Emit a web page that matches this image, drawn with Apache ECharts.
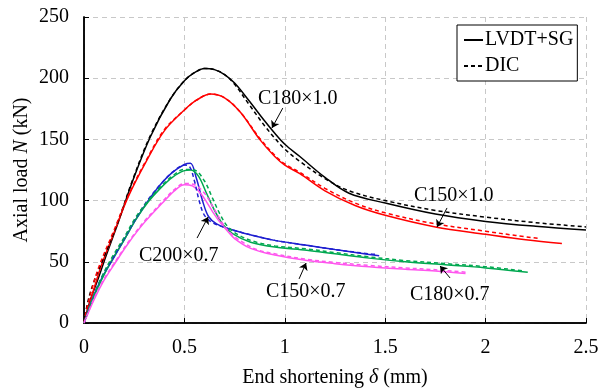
<!DOCTYPE html>
<html>
<head>
<meta charset="utf-8">
<script src="https://cdn.jsdelivr.net/npm/echarts@6/dist/echarts.min.js"></script>
<style>
  html, body { margin: 0; padding: 0; background: #fff; }
  #chart { width: 609px; height: 389px; }
</style>
</head>
<body>
<div id="chart"></div>
<script>
// x ticks and y ticks
const xTicks = [0, 0.5, 1, 1.5, 2, 2.5];
const yTicks = [0, 50, 100, 150, 200, 250];

// C180x1.0 (black)
const c180x10Solid = [[0,0],[0.03,18],[0.07,36],[0.11,55],[0.17,82],[0.24,115],[0.33,152],[0.43,183],[0.5,198],[0.55,204.5],[0.6,208],[0.65,207],[0.7,203],[0.75,196],[0.82,182],[0.9,165],[0.95,155],[1.0,146],[1.075,136],[1.2,119],[1.32,106],[1.5,98],[1.75,89],[2.0,83],[2.25,79],[2.5,76]];
const c180x10Dic = [[0,0],[0.02,18],[0.05,34],[0.1,54],[0.17,83],[0.24,116],[0.33,153],[0.43,183],[0.5,198],[0.55,204.5],[0.6,208],[0.65,207],[0.7,203],[0.75,195],[0.82,179],[0.9,161],[0.95,151],[1.0,142],[1.075,132],[1.2,118],[1.32,108],[1.5,100],[1.75,92],[2.0,86.5],[2.25,82],[2.5,78.5]];

// C150x1.0 (red)
const c150x10Solid = [[0,0],[0.03,17],[0.08,44],[0.15,74],[0.22,103],[0.31,132],[0.4,157],[0.5,174],[0.56,182],[0.63,187],[0.7,184],[0.78,172],[0.875,150],[0.95,136],[1.0,129],[1.075,122],[1.2,108],[1.35,96],[1.5,88],[1.75,78.5],[2.0,72.5],[2.2,68],[2.38,65]];
const c150x10Dic = [[0,0],[0.02,16],[0.07,44],[0.15,76],[0.22,104],[0.31,133],[0.4,158],[0.5,174],[0.56,182],[0.63,187],[0.7,184],[0.78,172],[0.875,151],[0.95,137],[1.0,130],[1.075,123],[1.2,110],[1.35,98],[1.5,90],[1.75,81],[2.0,75],[2.15,71.5],[2.27,69]];

// C200x0.7 (blue)
const c200x07Solid = [[0,0],[0.045,21],[0.09,37],[0.14,51],[0.2,68],[0.26,85],[0.32,100],[0.38,113],[0.44,123],[0.5,129.5],[0.53,130.5],[0.56,118],[0.59,100],[0.62,87],[0.66,81],[0.72,77],[0.83,72],[0.95,67.5],[1.11,63.5],[1.25,60],[1.42,56],[1.47,55]];
const c200x07Dic = [[0,0],[0.045,21],[0.09,38],[0.14,52],[0.2,69],[0.26,86],[0.32,101],[0.38,113],[0.44,123],[0.5,129],[0.525,128],[0.55,116],[0.575,99],[0.6,88],[0.64,82],[0.72,77],[0.83,72],[0.95,67.5],[1.11,63.5],[1.25,60],[1.42,56.5],[1.46,56]];

// C180x0.7 (green)
const c180x07Solid = [[0,0],[0.045,20],[0.09,36],[0.13,49],[0.2,68],[0.26,85],[0.32,99],[0.38,110],[0.44,119],[0.5,124.5],[0.53,125],[0.57,120],[0.61,106],[0.65,92],[0.69,81],[0.74,73],[0.83,66],[0.95,62],[1.11,59.5],[1.25,56.5],[1.42,53],[1.6,50],[1.8,47.5],[2.0,45],[2.21,41.5]];
const c180x07Dic = [[0,0],[0.04,19],[0.09,38],[0.13,51],[0.2,70],[0.26,87],[0.32,100],[0.38,111],[0.44,120],[0.5,125.5],[0.55,125],[0.6,116],[0.64,102],[0.68,88],[0.72,78],[0.78,71],[0.86,66],[0.95,63],[1.11,60.5],[1.25,57.5],[1.42,54],[1.6,51],[1.8,48.5],[2.0,46],[2.19,42.5]];

// C150x0.7 (magenta)
const c150x07Solid = [[0,0],[0.05,19],[0.1,35],[0.155,49],[0.22,65],[0.3,82],[0.39,98],[0.45,108],[0.5,113],[0.54,112],[0.58,106],[0.61,99],[0.64,91],[0.67,84],[0.71,76],[0.75,69],[0.83,61],[0.95,55.5],[1.11,51],[1.25,48.5],[1.42,46],[1.6,44],[1.75,42.5],[1.9,40.5]];
const c150x07Dic = [[0,0],[0.05,20],[0.1,36],[0.155,50],[0.22,66],[0.3,83],[0.39,99],[0.45,109],[0.5,114],[0.55,113],[0.6,106],[0.635,97],[0.67,87],[0.7,79],[0.74,72],[0.79,66],[0.86,60],[0.95,56.5],[1.11,52],[1.25,49.5],[1.42,47],[1.6,45],[1.75,43.5],[1.9,41.5]];

// annotation labels and arrows (data coordinates)
const noteLabels = [
  ["C180×1.0", 1.066, 183],
  ["C150×1.0", 1.843, 104],
  ["C200×0.7", 0.473, 55],
  ["C150×0.7", 1.106, 25],
  ["C180×0.7", 1.823, 22.5]
];
const noteArrows = [
  [0.99, 175.6, 0.936, 159.3],
  [1.808, 94, 1.758, 78.4],
  [0.563, 69.4, 0.618, 86.6],
  [1.071, 36, 1.106, 49],
  [1.823, 36.8, 1.773, 46.6]
];

const FONT = "'Liberation Serif', 'Times New Roman', serif";

const curves = [
  { solid: c180x10Solid, dic: c180x10Dic, color: "#000000" },
  { solid: c150x10Solid, dic: c150x10Dic, color: "#ff0000" },
  { solid: c200x07Solid, dic: c200x07Dic, color: "#1f1fd0" },
  { solid: c180x07Solid, dic: c180x07Dic, color: "#00a850" },
  { solid: c150x07Solid, dic: c150x07Dic, color: "#ff55ee" }
];

const series = [];
curves.forEach((c) => {
  series.push({
    type: "line",
    data: c.solid,
    showSymbol: false,
    symbol: "none",
    smooth: 0.35,
    lineStyle: { color: c.color, width: 1.5 },
    z: 2
  });
  series.push({
    type: "line",
    data: c.dic,
    showSymbol: false,
    symbol: "none",
    smooth: 0.35,
    lineStyle: { color: c.color, width: 1.5, type: [4, 3] },
    z: 3
  });
});

// legend-only series
series.push({
  name: "LVDT+SG", type: "line", data: [], symbol: "none",
  lineStyle: { color: "#000", width: 1.5 }, itemStyle: { color: "#000" }
});
series.push({
  name: "DIC", type: "line", data: [], symbol: "none",
  lineStyle: { color: "#000", width: 1.5, type: [4, 3] }, itemStyle: { color: "#000" }
});

// annotation arrows
series.push({
  type: "lines",
  coordinateSystem: "cartesian2d",
  symbol: ["none", "arrow"],
  symbolSize: 7,
  lineStyle: { color: "#000", width: 1, opacity: 1 },
  data: noteArrows.map((a) => ({ coords: [[a[0], a[1]], [a[2], a[3]]] })),
  z: 5
});

const axisFrame = {
  axisLine: { show: true, lineStyle: { color: "#000", width: 1.5 } },
  axisTick: { show: false },
  axisLabel: { show: false },
  splitLine: { show: false }
};

const chart = echarts.init(document.getElementById("chart"));
chart.setOption({
  animation: false,
  backgroundColor: "#fff",
  textStyle: { fontFamily: FONT },
  grid: { left: 84, right: 23, top: 17, bottom: 66, outerBoundsMode: "none", containLabel: false },
  legend: {
    data: [
      { name: "LVDT+SG", itemStyle: { opacity: 0 } },
      { name: "DIC", itemStyle: { opacity: 0 } }
    ],
    orient: "vertical",
    left: 457,
    top: 25,
    itemWidth: 19,
    itemHeight: 14,
    itemGap: 6,
    padding: [5, 4, 5, 6],
    borderColor: "#000",
    borderWidth: 1,
    borderRadius: 0,
    backgroundColor: "#fff",
    textStyle: { fontFamily: FONT, fontSize: 20, color: "#000", padding: [0, 0, 0, -3] }
  },
  xAxis: [{
    type: "value",
    min: xTicks[0],
    max: xTicks[xTicks.length - 1],
    interval: xTicks[1] - xTicks[0],
    name: "End shortening {i|δ} (mm)",
    nameLocation: "middle",
    nameGap: 45,
    nameMoveOverlap: false,
    nameTextStyle: {
      fontFamily: FONT, fontSize: 20, color: "#000",
      rich: { i: { fontFamily: FONT, fontSize: 20, fontStyle: "italic", color: "#000" } }
    },
    axisLine: { show: true, lineStyle: { color: "#000", width: 1.5 } },
    axisTick: { show: true, inside: true, length: 5, lineStyle: { color: "#000" } },
    axisLabel: { color: "#000", fontFamily: FONT, fontSize: 20, margin: 15 },
    splitLine: { show: true, lineStyle: { color: "#c8c8c8", type: [5, 4], width: 1 } }
  }, Object.assign({
    type: "value", position: "top",
    min: xTicks[0], max: xTicks[xTicks.length - 1]
  }, axisFrame)],
  yAxis: [{
    type: "value",
    min: yTicks[0],
    max: yTicks[yTicks.length - 1],
    interval: yTicks[1] - yTicks[0],
    name: "Axial load {i|N} (kN)",
    nameLocation: "middle",
    nameGap: 52,
    nameMoveOverlap: false,
    nameTextStyle: {
      fontFamily: FONT, fontSize: 20, color: "#000",
      rich: { i: { fontFamily: FONT, fontSize: 20, fontStyle: "italic", color: "#000" } }
    },
    axisLine: { show: true, lineStyle: { color: "#000", width: 1.5 } },
    axisTick: { show: true, inside: true, length: 5, lineStyle: { color: "#000" } },
    axisLabel: { color: "#000", fontFamily: FONT, fontSize: 20, margin: 15 },
    splitLine: { show: true, lineStyle: { color: "#c8c8c8", type: [5, 4], width: 1 } }
  }, Object.assign({
    type: "value", position: "right",
    min: yTicks[0], max: yTicks[yTicks.length - 1]
  }, axisFrame)],
  series: series
});

// annotation text, placed at data coordinates and snapped to whole pixels
const measure = document.createElement("canvas").getContext("2d");
measure.font = "20px " + FONT;
chart.setOption({
  graphic: noteLabels.map((n) => {
    const p = chart.convertToPixel({ gridIndex: 0 }, [n[1], n[2]]);
    const w = measure.measureText(n[0]).width;
    return {
      type: "text",
      x: Math.round(p[0] - w / 2),
      y: Math.round(p[1] - 10),
      z: 10,
      style: {
        text: n[0],
        fill: "#000",
        font: "20px " + FONT,
        align: "left",
        verticalAlign: "top"
      }
    };
  })
});
</script>
</body>
</html>
